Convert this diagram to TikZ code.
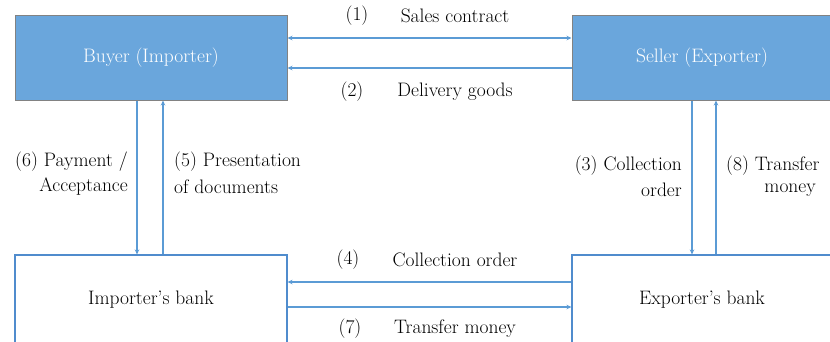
\documentclass[tikz,border=0pt]{standalone}
\usetikzlibrary{arrows.meta}
\definecolor{boxblue}{RGB}{106,166,220}
\definecolor{lineblue}{RGB}{91,155,213}
\definecolor{edgeblue}{RGB}{80,140,205}
\definecolor{boxgray}{RGB}{130,130,130}
\begin{document}
\begin{tikzpicture}[x=1pt,y=-1pt,
  every node/.style={font=\fontsize{19.5}{23}\selectfont, inner sep=0pt},
  party/.style={draw=boxgray, fill=boxblue, line width=1pt, text=white, minimum width=272pt, minimum height=85pt},
  bank/.style={draw=edgeblue, fill=white, line width=1.1pt, minimum width=272pt, minimum height=90pt},
  flow/.style={draw=lineblue, line width=1.1pt},
  tip/.style={-{Stealth[length=5pt,width=4.5pt]}},
  lbl/.style={text=black}]
\useasboundingbox (0,0) rectangle (830,341);
\clip (0,0) rectangle (830,341);
\node[party] (buyer) at (151,57.5) {Buyer (Importer)};
\node[party, minimum width=260pt] (seller) at (702,57.5) {Seller (Exporter)};
\node[bank] (ibank) at (151,300) {Importer’s bank};
\node[bank, minimum width=260pt] (ebank) at (702,300) {Exporter’s bank};
% top connectors
\draw[flow, {Stealth[length=5pt,width=4.5pt]}-{Stealth[length=5pt,width=4.5pt]}] ([yshift=19.5pt]buyer.east) -- ([yshift=19.5pt]seller.west);
\draw[flow, tip] ([yshift=-10.5pt]seller.west) -- ([yshift=-10.5pt]buyer.east);
% left verticals
\draw[flow, tip] ([xshift=-14pt]buyer.south) -- ([xshift=-14pt]ibank.north);
\draw[flow, tip] ([xshift=12pt]ibank.north) -- ([xshift=12pt]buyer.south);
% right verticals
\draw[flow, tip] ([xshift=-10pt]seller.south) -- ([xshift=-10pt]ebank.north);
\draw[flow, tip] ([xshift=14pt]ebank.north) -- ([xshift=14pt]seller.south);
% bottom connectors
\draw[flow, tip] ([yshift=18pt]ebank.west) -- ([yshift=18pt]ibank.east);
\draw[flow, tip] ([yshift=-7pt]ibank.east) -- ([yshift=-7pt]ebank.west);
% labels
\node[lbl] (n1) at (357,16) {(1)};
\node[lbl] (t1) at (455,16) {Sales contract};
\node[lbl] (n2) at (352,92) {(2)};
\node[lbl] (t2) at (455,92) {Delivery goods};
\node[lbl] (n4) at (348,260) {(4)};
\node[lbl] (t4) at (455,260) {Collection order};
\node[lbl] (n7) at (350,329) {(7)};
\node[lbl] (t7) at (455,329) {Transfer money};
\node[lbl, anchor=east] (l6a) at (128,162) {(6)\hspace{6pt}Payment /};
\node[lbl, anchor=east] (l6b) at (128,187) {Acceptance};
\node[lbl, anchor=west] (l5a) at (174,162) {(5)\hspace{6pt}Presentation};
\node[lbl, anchor=west] (l5b) at (174,187) {of documents};
\node[lbl, anchor=east] (l3a) at (682,166) {(3)\hspace{6pt}Collection};
\node[lbl, anchor=east] (l3b) at (682,190) {order};
\node[lbl, anchor=west] (l8a) at (726,166) {(8)\hspace{6pt}Transfer};
\node[lbl, anchor=east] (l8b) at (816,190) {money};
\end{tikzpicture}
\end{document}
